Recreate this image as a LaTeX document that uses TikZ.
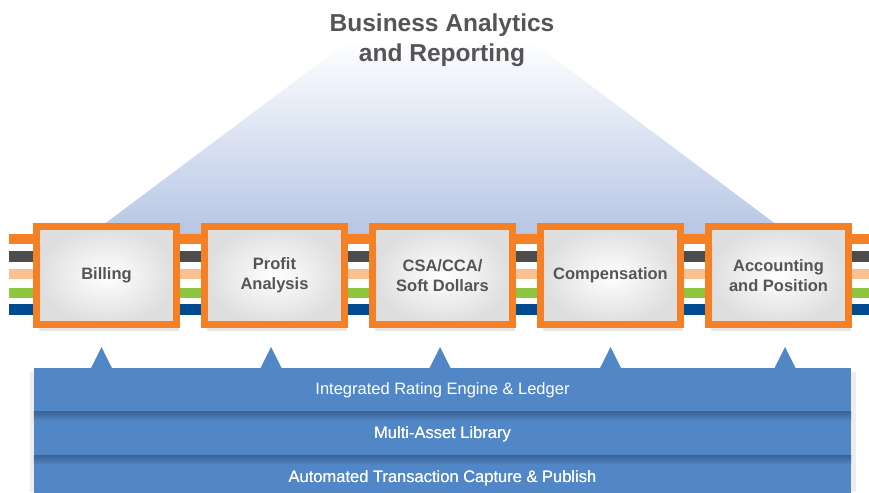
\documentclass[tikz,border=0pt]{standalone}
\usepackage{fontspec}
\setmainfont{Liberation Sans}
\usetikzlibrary{shadows}

\definecolor{brandorange}{RGB}{245,128,37}
\definecolor{stripegray}{RGB}{77,77,77}
\definecolor{stripepeach}{RGB}{251,192,143}
\definecolor{stripegreen}{RGB}{141,198,63}
\definecolor{stripeblue}{RGB}{0,74,143}
\definecolor{barblue}{RGB}{82,135,199}
\definecolor{bardark}{RGB}{62,100,150}
\definecolor{pyramid}{RGB}{180,196,228}
\definecolor{labelgray}{RGB}{85,85,85}

\begin{document}
\begin{tikzpicture}[x=1pt,y=-1pt,
        module/.style={draw=brandorange,line width=7pt,minimum width=140pt,minimum height=98pt,
            inner color=white,outer color=black!13,text=labelgray,align=center,
            font=\fontsize{16.5}{20}\selectfont\bfseries,
            drop shadow={opacity=0.2,shadow xshift=2pt,shadow yshift=-6pt}},
        layer/.style={fill=barblue,minimum width=817pt,minimum height=44pt,inner sep=0pt,
            text=white,font=\fontsize{16.5}{20}\selectfont}]
        \useasboundingbox (0,0) rectangle (869,492);
        % pyramid
        \shade[top color=white,middle color=pyramid!45,bottom color=pyramid]
              (350,40) -- (530,40) -- (797,240) -- (83,240) -- cycle;
        \node (title) [align=center,text=labelgray,font=\fontsize{24.5}{30}\selectfont\bfseries]
              at (442,40) {Business Analytics\\and Reporting};
        % stripes
        \foreach \c/\t/\b in {brandorange/234/244,stripegray/251/262,stripepeach/269/279,
                              stripegreen/288/298,stripeblue/304/315}
            \fill[\c] (9,\t) rectangle (869,\b);
        % modules
        \node[module] (billing) at (106.5,275.5) {Billing};
        \node[module] (profit)  at (274.5,275.5) {Profit\\Analysis};
        \node[module] (csa)     at (442.5,275.5) {CSA/CCA/\\Soft Dollars};
        \node[module] (comp)    at (610.5,275.5) {Compensation};
        \node[module] (acct)    at (778.5,275.5) {Accounting\\and Position};
        % pointers
        \foreach \x in {101.5,271,440,610.5,785}
            \fill[barblue] (\x-10.5,368) -- (\x,347) -- (\x+10.5,368) -- cycle;
        % layers
        \fill[black!7] (30,372) rectangle (856,492);
        \node[layer] (rating)  at (442.5,390) {Integrated Rating Engine \& Ledger};
        \node[layer] (library) at (442.5,434) {Multi-Asset Library};
        \node[layer] (capture) at (442.5,478) {Automated Transaction Capture \& Publish};
        \shade[top color=bardark,bottom color=barblue]
              (library.north west) rectangle ([yshift=-9pt]library.north east);
        \shade[top color=bardark,bottom color=barblue]
              (capture.north west) rectangle ([yshift=-9pt]capture.north east);
        \node[text=white,font=\fontsize{16.5}{20}\selectfont] at (library) {Multi-Asset Library};
        \node[text=white,font=\fontsize{16.5}{20}\selectfont] at (capture) {Automated Transaction Capture \& Publish};
\end{tikzpicture}
\end{document}
